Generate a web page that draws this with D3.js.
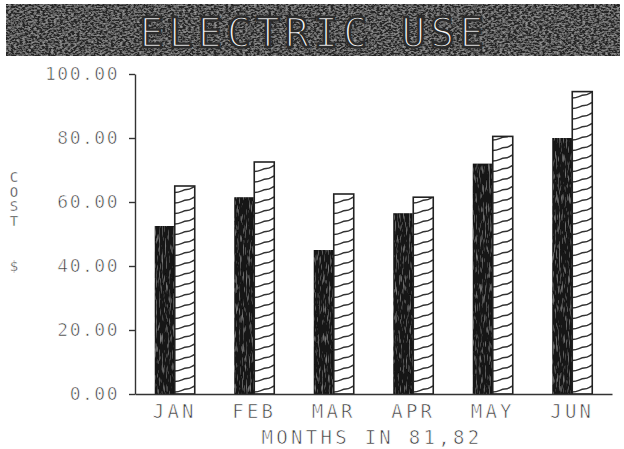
<!DOCTYPE html>
<html>
<head>
<meta charset="utf-8">
<script src="https://cdn.jsdelivr.net/npm/d3@7"></script>
<style>
  body { margin: 0; background: #fff; }
  svg { display: block; }
  .axis text { font-family: "DejaVu Sans Mono", monospace; fill: #3a3a3a; stroke: #fff; stroke-width: 0.65; }
  .axis path, .axis line { stroke: #333; stroke-width: 1.4; }
</style>
</head>
<body>
<script>
// data
var months = ["JAN", "FEB", "MAR", "APR", "MAY", "JUN"];
var cost81 = [52.5, 61.5, 45, 56.5, 72, 80];
var cost82 = [65, 72.5, 62.5, 61.5, 80.5, 94.5];
var yTicks = [0, 20, 40, 60, 80, 100];
var years = ["81", "82"];

// dimensions of SVG area
var w = 624;
var h = 449;
var margin = {top: 74, right: 12, bottom: 55, left: 135};
var innerW = w - margin.left - margin.right;
var innerH = h - margin.top - margin.bottom;

var svg = d3.select("body")
            .append("svg")
            .attr("width", w)
            .attr("height", h);

var defs = svg.append("defs");

// speckled ink texture for the dark bars and the title band
function speckle(id, freq, grey, gain, offset, seed) {
  var f = defs.append("filter").attr("id", id)
      .attr("x", 0).attr("y", 0).attr("width", 1).attr("height", 1);
  f.append("feTurbulence")
      .attr("type", "fractalNoise")
      .attr("baseFrequency", freq)
      .attr("numOctaves", 2)
      .attr("seed", seed)
      .attr("result", "noise");
  f.append("feColorMatrix")
      .attr("in", "noise")
      .attr("type", "matrix")
      .attr("values", "0 0 0 0 " + grey + "  0 0 0 0 " + grey + "  0 0 0 0 " + grey + "  " + gain + " 0 0 0 " + offset)
      .attr("result", "spots");
  f.append("feComposite")
      .attr("in", "spots")
      .attr("in2", "SourceGraphic")
      .attr("operator", "in")
      .attr("result", "clipped");
  var m = f.append("feMerge");
  m.append("feMergeNode").attr("in", "SourceGraphic");
  m.append("feMergeNode").attr("in", "clipped");
}
speckle("barInk", "0.7 0.1", 0.45, 1.4, -0.75, 4);
speckle("bandInk", "0.35 0.6", 0.5, 1.5, -0.6, 9);

// title band
svg.append("rect")
    .attr("x", 6)
    .attr("y", 4)
    .attr("width", 614)
    .attr("height", 52)
    .attr("fill", "#252525")
    .attr("filter", "url(#bandInk)");

// white title, thinned with a dark stroke over the glyph edges
svg.append("text")
    .attr("x", 314)
    .attr("y", 47)
    .attr("text-anchor", "middle")
    .attr("font-family", "DejaVu Sans Mono, monospace")
    .attr("font-size", 40)
    .attr("letter-spacing", 5)
    .attr("fill", "#f6f6f6")
    .attr("stroke", "#2c2c2c")
    .attr("stroke-width", 2.4)
    .text("ELECTRIC USE");

var g = svg.append("g")
    .attr("transform", "translate(" + margin.left + "," + margin.top + ")");

// scales
var x0 = d3.scaleBand()
    .domain(months)
    .range([0, innerW])
    .paddingInner(0.497)
    .paddingOuter(0.2485);

var x1 = d3.scaleBand()
    .domain(years)
    .range([0, x0.bandwidth()]);

var y = d3.scaleLinear()
    .domain([0, 100])
    .range([innerH, 0]);

// dark bars, 81
g.selectAll(".bar81")
    .data(cost81)
    .enter()
    .append("rect")
    .attr("class", "bar81")
    .attr("x", function(d, i) { return x0(months[i]) + x1("81"); })
    .attr("y", function(d) { return y(d); })
    .attr("width", x1.bandwidth())
    .attr("height", function(d) { return innerH - y(d); })
    .attr("fill", "#161616")
    .attr("filter", "url(#barInk)");

// hatched bars, 82
var hatch = g.selectAll(".bar82")
    .data(cost82)
    .enter()
    .append("g")
    .attr("class", "bar82");

hatch.append("clipPath")
    .attr("id", function(d, i) { return "clip" + i; })
    .append("rect")
    .attr("x", function(d, i) { return x0(months[i]) + x1("82"); })
    .attr("y", function(d) { return y(d); })
    .attr("width", x1.bandwidth())
    .attr("height", function(d) { return innerH - y(d); });

hatch.append("rect")
    .attr("x", function(d, i) { return x0(months[i]) + x1("82"); })
    .attr("y", function(d) { return y(d); })
    .attr("width", x1.bandwidth())
    .attr("height", function(d) { return innerH - y(d); })
    .attr("fill", "#fff");

hatch.append("g")
    .attr("clip-path", function(d, i) { return "url(#clip" + i + ")"; })
    .each(function(d, i) {
      var bx = x0(months[i]) + x1("82");
      var bw = x1.bandwidth();
      var steps = d3.range(innerH, y(d) - 10, -10.5);
      d3.select(this).selectAll("path")
        .data(steps)
        .enter()
        .append("path")
        .attr("d", function(s) {
          return "M" + bx + "," + (s - 2) +
                 "C" + (bx + 6) + "," + (s - 2) + " " + (bx + 8) + "," + (s - 5) +
                 " " + (bx + 12) + "," + (s - 5) +
                 "S" + (bx + 17) + "," + (s - 7) + " " + (bx + bw) + "," + (s - 8);
        })
        .attr("fill", "none")
        .attr("stroke", "#333")
        .attr("stroke-width", 1.4);
    });

hatch.append("rect")
    .attr("x", function(d, i) { return x0(months[i]) + x1("82"); })
    .attr("y", function(d) { return y(d); })
    .attr("width", x1.bandwidth())
    .attr("height", function(d) { return innerH - y(d); })
    .attr("fill", "none")
    .attr("stroke", "#222")
    .attr("stroke-width", 1.6);

// y axis
g.append("g")
    .attr("class", "axis")
    .call(d3.axisLeft(y).tickValues(yTicks).tickFormat(d3.format(".2f")).tickSize(6).tickSizeOuter(0).tickPadding(10))
    .selectAll("text")
      .attr("font-size", 18)
      .attr("letter-spacing", 1.5);

// x axis
g.append("g")
    .attr("class", "axis")
    .attr("transform", "translate(0," + innerH + ")")
    .call(d3.axisBottom(x0).tickSize(0).tickPadding(10))
    .selectAll("text")
      .attr("font-size", 19)
      .attr("letter-spacing", 3.3)
      .attr("dy", "0.75em");

// x axis title
svg.append("text")
    .attr("x", 372)
    .attr("y", 444)
    .attr("text-anchor", "middle")
    .attr("font-family", "DejaVu Sans Mono, monospace")
    .attr("font-size", 19)
    .attr("letter-spacing", 3.3)
    .attr("fill", "#3a3a3a")
    .attr("stroke", "#fff")
    .attr("stroke-width", 0.65)
    .text("MONTHS IN 81,82");

// y axis title, letters stacked
var ylab = svg.append("text")
    .attr("font-family", "DejaVu Sans Mono, monospace")
    .attr("font-size", 14)
    .attr("fill", "#3a3a3a")
    .attr("stroke", "#fff")
    .attr("stroke-width", 0.4)
    .attr("text-anchor", "middle");

["C", "O", "S", "T"].forEach(function(c, i) {
  ylab.append("tspan").attr("x", 14).attr("y", 182 + i * 14.5).text(c);
});
ylab.append("tspan").attr("x", 14).attr("y", 271).text("$");
</script>
</body>
</html>
